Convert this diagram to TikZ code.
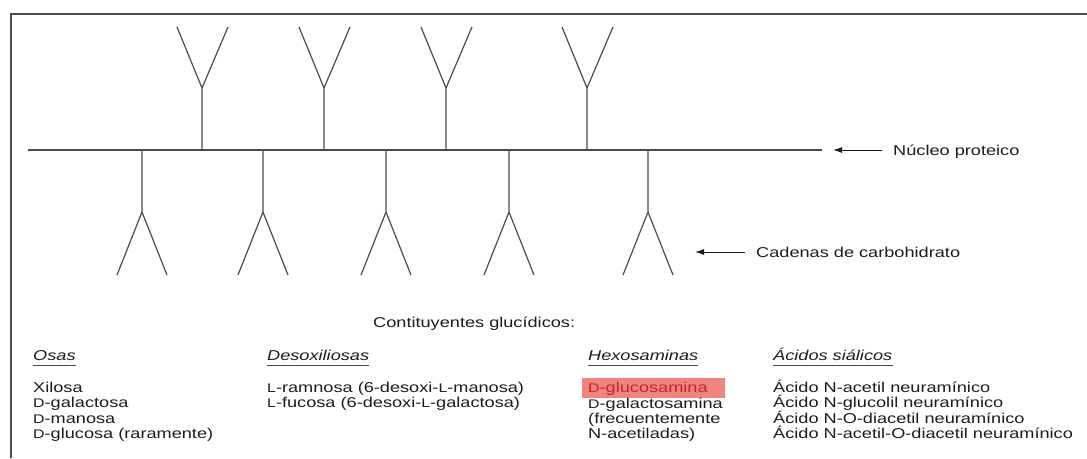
\documentclass[tikz,border=0pt]{standalone}
\usepackage{fontspec}
\usepackage{xcolor}
\usepackage{tikz}
\usetikzlibrary{arrows.meta,calc}
\newfontfamily\figfont[FakeStretch=1.27]{Liberation Sans}
\definecolor{figline}{RGB}{75,75,75}
\definecolor{figtext}{RGB}{28,28,28}
\definecolor{fighl}{RGB}{242,132,128}
\definecolor{fighltext}{RGB}{196,36,40}
\newcommand\dl[1]{{\fontsize{12.5}{12.5}\selectfont #1}}
\tikzset{
  sc/.style   ={draw=figline, line width=1.2pt},
  scb/.style  ={draw=figline, line width=1.8pt},
  frm/.style  ={draw=figline, line width=2pt},
  lab/.style  ={font=\figfont\fontsize{14.3}{15.5}\selectfont, text=figtext, inner sep=0pt, anchor=base west},
  hdr/.style  ={lab, font=\figfont\itshape\fontsize{14.3}{15.5}\selectfont},
  uline/.style={draw=figline, line width=1.3pt},
  ptr/.style  ={draw=figtext, line width=1pt, -{Latex[length=9pt,width=6pt]}},
}

\begin{document}
\begin{tikzpicture}[x=1pt,y=-1pt]
  \useasboundingbox (0,0) rectangle (1087,458);
  % frame
  \draw[frm] (11,458) -- (11,14) -- (1087,14);
  % protein core
  \coordinate (core-w) at (28,150);
  \coordinate (core-e) at (822,150);
  \draw[scb] (core-w) -- (core-e);
  % upper chains
  \foreach \i/\x in {1/202,2/324,3/446,4/587} {
    \coordinate (up\i) at (\x,150);
    \coordinate (upfork\i) at (\x,88);
    \draw[sc] (up\i) -- (upfork\i) -- ++(-25,-61) (upfork\i) -- ++(26,-61);
  }
  % lower chains
  \foreach \i/\x in {1/142,2/263,3/386,4/509,5/648} {
    \coordinate (dn\i) at (\x,150);
    \coordinate (dnfork\i) at (\x,212);
    \draw[sc] (dn\i) -- (dnfork\i) -- ++(-25,63) (dnfork\i) -- ++(25,63);
  }
  % labels with arrows
  \node[lab] (nucleo) at (893,155) {Núcleo proteico};
  \coordinate (nucleotip) at (833,150);
  \draw[ptr] ([xshift=-11pt]nucleo.west |- nucleotip) -- (nucleotip);
  \node[lab] (cadenas) at (756,257) {Cadenas de carbohidrato};
  \coordinate (cadenastip) at (695,252);
  \draw[ptr] ([xshift=-11pt]cadenas.west |- cadenastip) -- (cadenastip);
  % constituents
  \node[lab] (titulo) at (373,327) {Contituyentes glucídicos:};
  \node[hdr] (osas) at (33,360) {Osas};
  \node[hdr] (desox) at (267,360) {Desoxiliosas};
  \node[hdr] (hexos) at (588,360) {Hexosaminas};
  \node[hdr] (sial) at (773,360) {Ácidos siálicos};
  \foreach \h in {osas,desox,hexos,sial}
    \draw[uline] ([yshift=-5.5pt]\h.base west) -- ([yshift=-5.5pt]\h.base east);
  % highlight
  \fill[fighl] (582,378) rectangle (725,397.5);
  \node[lab] (osa1) at (33,392) {Xilosa};
  \node[lab] (osa2) at (33,407.5) {\dl{D}-galactosa};
  \node[lab] (osa3) at (33,423) {\dl{D}-manosa};
  \node[lab] (osa4) at (33,438.5) {\dl{D}-glucosa (raramente)};
  \node[lab] (des1) at (267,392) {\dl{L}-ramnosa (6-desoxi-\dl{L}-manosa)};
  \node[lab] (des2) at (267,407.5) {\dl{L}-fucosa (6-desoxi-\dl{L}-galactosa)};
  \node[lab, text=fighltext] (hex1) at (588,392) {\dl{D}-glucosamina};
  \node[lab] (hex2) at (588,408) {\dl{D}-galactosamina};
  \node[lab] (hex3) at (588,423) {(frecuentemente};
  \node[lab] (hex4) at (588,438.5) {N-acetiladas)};
  \node[lab] (sia1) at (773,392) {Ácido N-acetil neuramínico};
  \node[lab] (sia2) at (773,407.5) {Ácido N-glucolil neuramínico};
  \node[lab] (sia3) at (773,423) {Ácido N-O-diacetil neuramínico};
  \node[lab] (sia4) at (773,438.5) {Ácido N-acetil-O-diacetil neuramínico};
\end{tikzpicture}
\end{document}
